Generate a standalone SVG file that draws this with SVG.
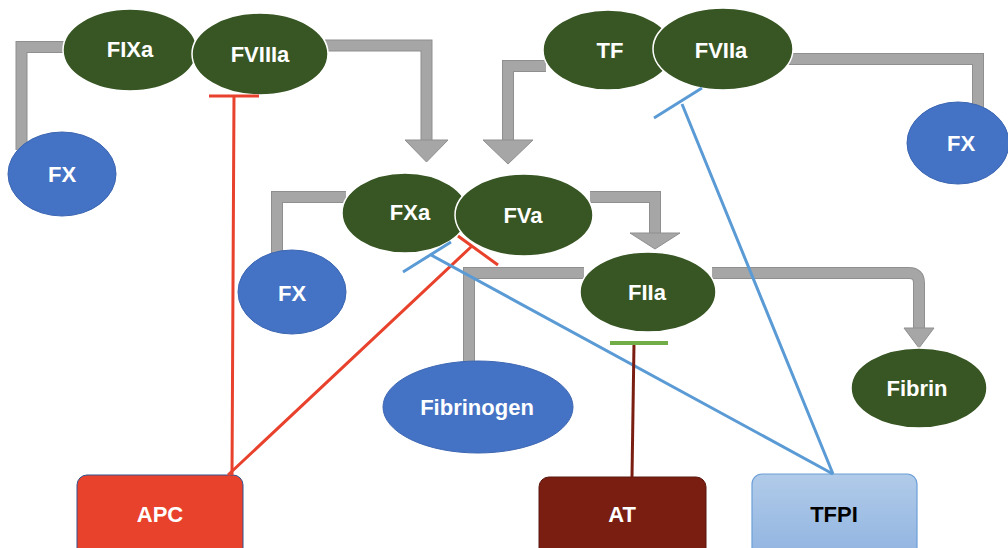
<svg xmlns="http://www.w3.org/2000/svg" width="1008" height="548" viewBox="0 0 1008 548">
  <style>
    .pipe-o { fill: none; stroke: #8f8f8f; stroke-width: 12; stroke-linejoin: miter; }
    .pipe { fill: none; stroke: #a6a6a6; stroke-width: 10; stroke-linejoin: miter; }
    .head { fill: #a6a6a6; stroke: #8f8f8f; stroke-width: 1; stroke-linejoin: miter; }
    .green { fill: #375623; stroke: #ffffff; stroke-width: 1.5; }
    .blue { fill: #4472c4; stroke: #3c66b2; stroke-width: 1; }
    .lbl { font-family: "Liberation Sans", Arial, sans-serif; font-weight: bold; font-size: 22px; fill: #ffffff; text-anchor: middle; dominant-baseline: central; }
    .dark { fill: #000000; }
    .red { stroke: #e8412c; stroke-width: 3; fill: none; }
    .tfpi { stroke: #5b9bd5; stroke-width: 3; fill: none; }
  </style>
  <defs>
    <linearGradient id="tfpiFill" x1="0" y1="0" x2="0" y2="1">
      <stop offset="0" stop-color="#b1cbe9"/>
      <stop offset="1" stop-color="#8eb2e0"/>
    </linearGradient>
  </defs>
  <rect width="1008" height="548" fill="#ffffff"/>

  <!-- grey activation pipes -->
  <g id="connectors">
    <path class="pipe-o" d="M 66,47 H 21.5 V 150"/>
    <path class="pipe-o" d="M 325,45.5 H 426.5 V 141"/>
    <path class="pipe-o" d="M 546,66 H 508 V 141"/>
    <path class="pipe-o" d="M 788,59 H 978 V 108"/>
    <path class="pipe-o" d="M 346,197 H 277 V 258"/>
    <path class="pipe-o" d="M 590,197 H 655 V 234"/>
    <path class="pipe-o" d="M 584,273 H 469 V 364"/>
    <path class="pipe-o" d="M 712,273 H 909 Q 919,273 919,283 V 329"/>

    <path class="pipe" d="M 66,47 H 21.5 V 150"/>
    <path class="pipe" d="M 325,45.5 H 426.5 V 141"/>
    <path class="pipe" d="M 546,66 H 508 V 141"/>
    <path class="pipe" d="M 788,59 H 978 V 108"/>
    <path class="pipe" d="M 346,197 H 277 V 258"/>
    <path class="pipe" d="M 590,197 H 655 V 234"/>
    <path class="pipe" d="M 584,273 H 469 V 364"/>
    <path class="pipe" d="M 712,273 H 909 Q 919,273 919,283 V 329"/>

    <polygon class="head" points="405,140 448,140 426.5,162"/>
    <polygon class="head" points="483,140 533,140 508,164"/>
    <polygon class="head" points="630,233 680,233 655,249"/>
    <polygon class="head" points="904,328 934,328 919,348"/>
  </g>

  <!-- factor nodes -->
  <g id="FIXa"><ellipse class="green" cx="130" cy="50" rx="67" ry="41"/><text class="lbl" x="130" y="49">FIXa</text></g>
  <g id="FVIIIa"><ellipse class="green" cx="260" cy="54" rx="68" ry="41"/><text class="lbl" x="260" y="54">FVIIIa</text></g>
  <g id="FX-left"><ellipse class="blue" cx="62" cy="174" rx="54" ry="42"/><text class="lbl" x="62" y="174">FX</text></g>
  <g id="TF"><ellipse class="green" cx="608" cy="50" rx="65" ry="40"/><text class="lbl" x="610" y="50">TF</text></g>
  <g id="FVIIa"><ellipse class="green" cx="723" cy="49" rx="70" ry="41"/><text class="lbl" x="721" y="50">FVIIa</text></g>
  <g id="FX-right"><ellipse class="blue" cx="958" cy="143" rx="51" ry="41"/><text class="lbl" x="961" y="143">FX</text></g>
  <g id="FXa"><ellipse class="green" cx="405" cy="213" rx="63" ry="40"/><text class="lbl" x="410" y="212">FXa</text></g>
  <g id="FVa"><ellipse class="green" cx="524" cy="215" rx="69" ry="41"/><text class="lbl" x="523" y="215">FVa</text></g>
  <g id="FX-mid"><ellipse class="blue" cx="292" cy="292" rx="54" ry="42"/><text class="lbl" x="292" y="293">FX</text></g>
  <g id="FIIa"><ellipse class="green" cx="648" cy="292" rx="68" ry="40"/><text class="lbl" x="647" y="292">FIIa</text></g>
  <g id="Fibrinogen"><ellipse class="blue" cx="478" cy="407" rx="95" ry="46"/><text class="lbl" x="477" y="407">Fibrinogen</text></g>
  <g id="Fibrin"><ellipse class="green" cx="919" cy="388" rx="68" ry="40"/><text class="lbl" x="917" y="388">Fibrin</text></g>

  <!-- inhibitor boxes -->
  <g id="APC"><rect x="77" y="475" width="166" height="90" rx="10" fill="#e8412c" stroke="#2f528f" stroke-width="1"/><text class="lbl" x="160" y="514">APC</text></g>
  <g id="AT"><rect x="539" y="477" width="167" height="90" rx="10" fill="#7b1e12" stroke="#5a160d" stroke-width="1"/><text class="lbl" x="622" y="514">AT</text></g>
  <g id="TFPI"><rect x="752" y="474" width="165" height="90" rx="10" fill="url(#tfpiFill)" stroke="#6d9fd8" stroke-width="1.2"/><text class="lbl dark" x="834" y="514">TFPI</text></g>

  <!-- inhibition lines -->
  <g id="inhibitions">
    <path class="red" d="M 232,475 L 234,96 M 209,96 H 259"/>
    <path class="red" d="M 228,475 L 472,246 M 458,236 L 498,265"/>
    <path class="tfpi" d="M 833,474 L 682,104 M 654,118 L 702,88"/>
    <path class="tfpi" d="M 833,474 L 431,255 M 403,272 L 451,242"/>
    <path d="M 632,477 L 634,343" stroke="#7b1e12" stroke-width="3" fill="none"/>
    <path d="M 610,343 H 668" stroke="#70ad47" stroke-width="4" fill="none"/>
  </g>
</svg>
